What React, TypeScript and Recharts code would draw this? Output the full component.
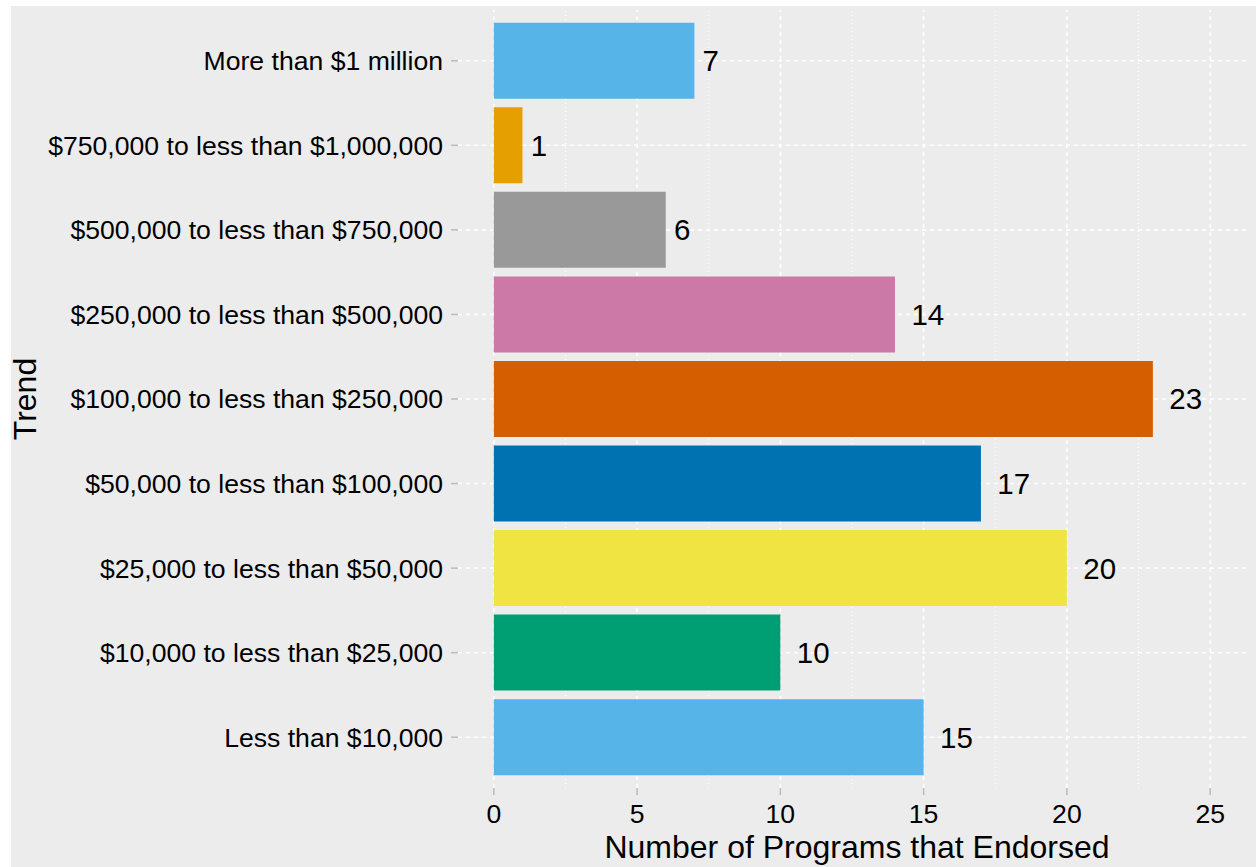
import React from "react";
import { BarChart, Bar, XAxis, YAxis, Cell, ReferenceLine, LabelList } from "recharts";

const categories = [
  "More than $1 million",
  "$750,000 to less than $1,000,000",
  "$500,000 to less than $750,000",
  "$250,000 to less than $500,000",
  "$100,000 to less than $250,000",
  "$50,000 to less than $100,000",
  "$25,000 to less than $50,000",
  "$10,000 to less than $25,000",
  "Less than $10,000",
];
const counts = [7, 1, 6, 14, 23, 17, 20, 10, 15];
const barColors = ["#56B4E9", "#E69F00", "#999999", "#CC79A7", "#D55E00", "#0072B2", "#F0E442", "#009E73", "#56B4E9"];
const majorTicks = [0, 5, 10, 15, 20, 25];
const minorTicks = [2.5, 7.5, 12.5, 17.5, 22.5];
const xDomain = [-1.25, 26.25];

const data = categories.map((c, i) => ({ category: c, count: counts[i] }));

const FONT = '"Liberation Sans", Arial, Helvetica, sans-serif';
const BG = "#ECECEC";
const TICK_FS = 26.6;
const VALUE_FS = 29.5;
const TITLE_FS = 32;

const ValueLabel = (props: any) => {
  const { x, y, width, height, value } = props;
  const textW = String(value).length * 0.556 * VALUE_FS;
  return (
    <text
      x={x + width + textW * 0.5}
      y={y + height / 2}
      dominantBaseline="central"
      textAnchor="start"
      fontSize={VALUE_FS}
      fontFamily={FONT}
      fill="#000"
    >
      {value}
    </text>
  );
};

const XTitle = (props: any) => {
  const vb = props.viewBox || { x: 447, y: 782, width: 788, height: 79 };
  return (
    <text x={vb.x + vb.width / 2 + 5} y={vb.y + 70} textAnchor="middle" fontSize={TITLE_FS} fontFamily={FONT} fill="#000">
      Number of Programs that Endorsed
    </text>
  );
};

const YTitle = (props: any) => {
  const vb = props.viewBox || { x: 0, y: 4, width: 447, height: 778 };
  const cx = vb.x + 25;
  const cy = vb.y + vb.height / 2;
  return (
    <text x={cx} y={cy} textAnchor="middle" transform={`rotate(-90, ${cx}, ${cy})`} fontSize={TITLE_FS} fontFamily={FONT} fill="#000">
      Trend
    </text>
  );
};

export default function App() {
  return (
    <div style={{ position: "absolute", left: 11, top: 6, width: 1245, height: 861, background: BG }}>
      <BarChart
        width={1245}
        height={861}
        data={data}
        layout="vertical"
        margin={{ top: 4, right: 10, bottom: 0, left: 0 }}
        barCategoryGap="5%"
        style={{ overflow: "visible" }}
      >
        {minorTicks.map((t) => (
          <ReferenceLine key={`mn${t}`} x={t} stroke="#FFFFFF" strokeWidth={1} strokeDasharray="1 3" zIndex={-50} />
        ))}
        {majorTicks.map((t) => (
          <ReferenceLine key={`mj${t}`} x={t} stroke="#FFFFFF" strokeWidth={1.5} strokeDasharray="4 4" zIndex={-50} />
        ))}
        {categories.map((c) => (
          <ReferenceLine key={`h${c}`} y={c} stroke="#FFFFFF" strokeWidth={1.5} strokeDasharray="4 4" zIndex={-50} />
        ))}
        <XAxis
          type="number"
          domain={xDomain}
          ticks={majorTicks}
          allowDataOverflow
          axisLine={false}
          tickLine={{ stroke: "#BBBBBB", strokeWidth: 1.5 }}
          tickSize={7}
          tickMargin={9}
          height={79}
          tick={{ fill: "#000", fontSize: TICK_FS, fontFamily: FONT }}
          label={{ content: XTitle }}
        />
        <YAxis
          type="category"
          dataKey="category"
          width={447}
          axisLine={false}
          tickLine={{ stroke: "#BBBBBB", strokeWidth: 1.5 }}
          tickSize={7}
          tickMargin={8}
          padding={{ top: 8.5, bottom: 8.5 }}
          interval={0}
          tick={{ fill: "#000", fontSize: TICK_FS, fontFamily: FONT }}
          label={{ content: YTitle }}
        />
        <Bar dataKey="count" isAnimationActive={false}>
          {data.map((d, i) => (
            <Cell key={d.category} fill={barColors[i]} />
          ))}
          <LabelList dataKey="count" content={ValueLabel} />
        </Bar>
      </BarChart>
    </div>
  );
}
